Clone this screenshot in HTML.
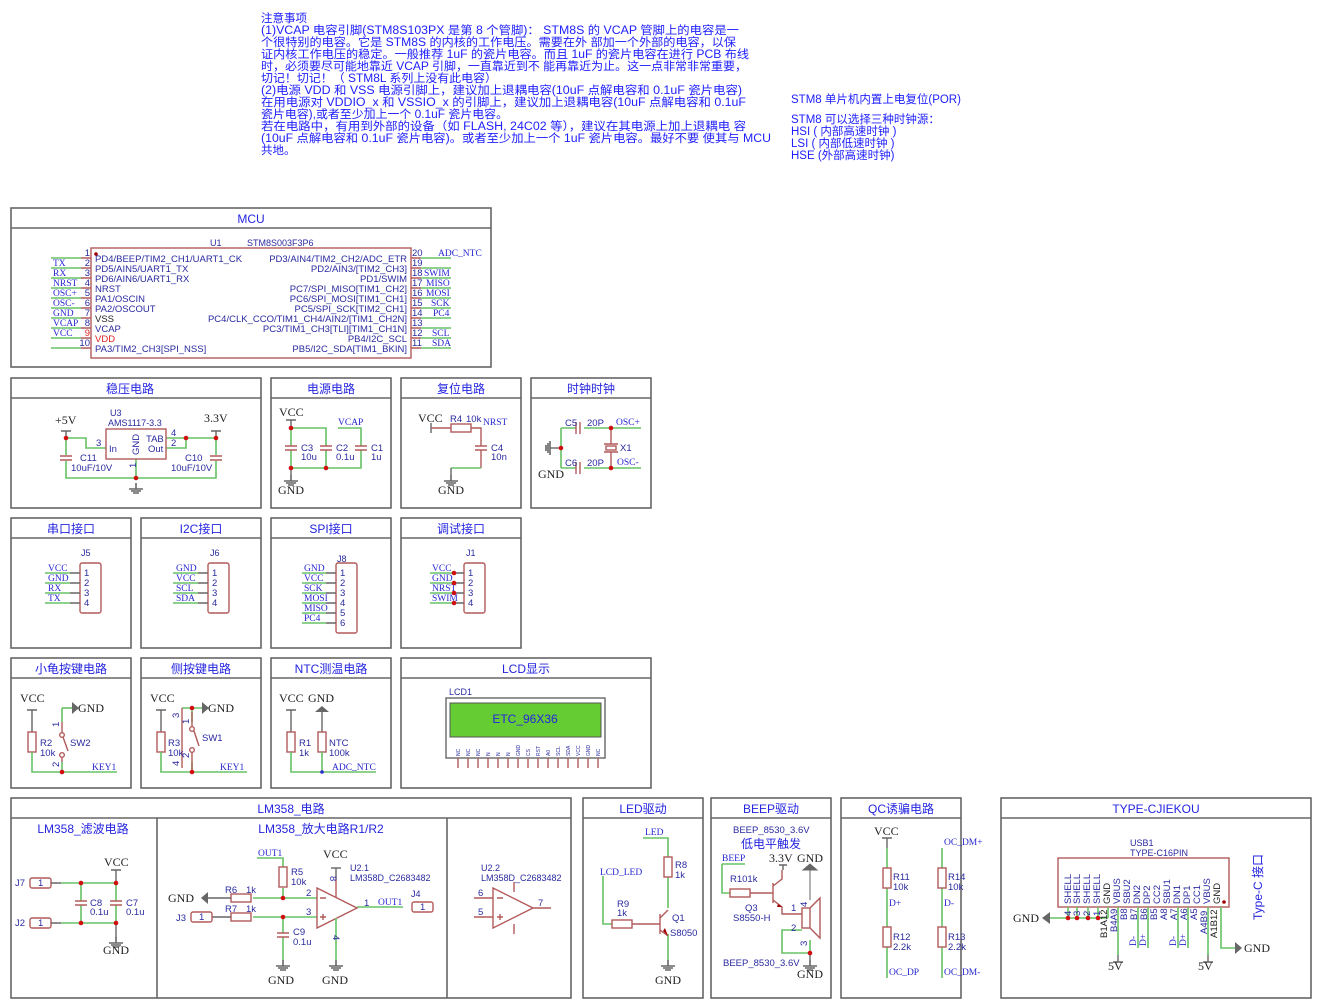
<!DOCTYPE html>
<html><head><meta charset="utf-8">
<style>
html,body{margin:0;padding:0;background:#fff;}
svg{display:block;}
.f{stroke:#666;stroke-width:1.6;fill:none}
.t{fill:#2424e0;font-family:"Liberation Sans","Noto Sans CJK SC",sans-serif;font-size:12px;text-anchor:middle}
.w{stroke:#66c266;stroke-width:1.6;fill:none}
.r{stroke:#b25a5a;stroke-width:1.4;fill:none}
.k{stroke:#666;stroke-width:1.4;fill:none}
.n{fill:#2626d0;font-family:"Liberation Serif",serif;font-size:9.5px}
.b{fill:#222;font-family:"Liberation Serif",serif;font-size:12px}
.s{fill:#2a2aa0;font-family:"Liberation Sans",sans-serif;font-size:9px}
.c{fill:#2a2aa0;font-family:"Liberation Sans",sans-serif;font-size:9.5px}
.d{fill:#d01010}
.note{fill:#2020ff;font-family:"Liberation Sans","Noto Sans CJK SC",sans-serif;font-size:11.5px}
</style></head>
<body>
<svg width="1321" height="1008" viewBox="0 0 1321 1008" xmlns="http://www.w3.org/2000/svg">
<defs>
<g id="gnd"><path d="M0,0V6M-7,6H7M-5,8H5M-3,10H3" stroke="#666" stroke-width="1.6" fill="none"/></g>
<g id="rv"><rect x="-4" y="0" width="8" height="20" class="r"/></g>
<g id="rh"><rect x="0" y="-4" width="20" height="8" class="r"/></g>
<g id="cv"><path d="M-6,-2H6M-6,2H6" class="r"/></g>
<g id="ch"><path d="M-2,-6V6M2,-6V6" class="r"/></g>
</defs>

<!-- Notes -->
<g class="note">
<text x="261" y="22">注意事项</text>
<text x="261" y="34" textLength="478" lengthAdjust="spacingAndGlyphs">(1)VCAP 电容引脚(STM8S103PX 是第 8 个管脚)：  STM8S 的 VCAP 管脚上的电容是一</text>
<text x="261" y="46" textLength="475" lengthAdjust="spacingAndGlyphs">个很特别的电容。它是 STM8S 的内核的工作电压。需要在外 部加一个外部的电容，以保</text>
<text x="261" y="58" textLength="488" lengthAdjust="spacingAndGlyphs">证内核工作电压的稳定。一般推荐 1uF 的瓷片电容。而且 1uF 的瓷片电容在进行 PCB 布线</text>
<text x="261" y="70" textLength="486" lengthAdjust="spacingAndGlyphs">时，必须要尽可能地靠近 VCAP 引脚，一直靠近到不 能再靠近为止。这一点非常非常重要，</text>
<text x="261" y="82" textLength="236" lengthAdjust="spacingAndGlyphs">切记！切记！（  STM8L 系列上没有此电容）</text>
<text x="261" y="94" textLength="481" lengthAdjust="spacingAndGlyphs">(2)电源 VDD 和 VSS 电源引脚上，建议加上退耦电容(10uF 点解电容和 0.1uF 瓷片电容)</text>
<text x="261" y="106" textLength="485" lengthAdjust="spacingAndGlyphs">在用电源对 VDDIO_x 和 VSSIO_x 的引脚上，建议加上退耦电容(10uF 点解电容和 0.1uF</text>
<text x="261" y="118" textLength="247" lengthAdjust="spacingAndGlyphs">瓷片电容),或者至少加上一个 0.1uF 瓷片电容。</text>
<text x="261" y="130" textLength="485" lengthAdjust="spacingAndGlyphs">若在电路中，有用到外部的设备（如 FLASH, 24C02 等），建议在其电源上加上退耦电 容</text>
<text x="261" y="142" textLength="510" lengthAdjust="spacingAndGlyphs">(10uF 点解电容和 0.1uF 瓷片电容)。或者至少加上一个 1uF 瓷片电容。最好不要 使其与 MCU</text>
<text x="261" y="154">共地。</text>
<text x="791" y="103">STM8 单片机内置上电复位(POR)</text>
<text x="791" y="123">STM8 可以选择三种时钟源：</text>
<text x="791" y="135">HSI ( 内部高速时钟 )</text>
<text x="791" y="147">LSI ( 内部低速时钟 )</text>
<text x="791" y="159">HSE (外部高速时钟)</text>
</g>

<!-- Frames -->
<g class="f">
<rect x="11" y="208" width="480" height="159"/><path d="M11,228H491"/>
<rect x="11" y="378" width="250" height="130"/><path d="M11,398H261"/>
<rect x="271" y="378" width="120" height="130"/><path d="M271,398H391"/>
<rect x="401" y="378" width="120" height="130"/><path d="M401,398H521"/>
<rect x="531" y="378" width="120" height="130"/><path d="M531,398H651"/>
<rect x="11" y="518" width="120" height="130"/><path d="M11,538H131"/>
<rect x="141" y="518" width="120" height="130"/><path d="M141,538H261"/>
<rect x="271" y="518" width="120" height="130"/><path d="M271,538H391"/>
<rect x="401" y="518" width="120" height="130"/><path d="M401,538H521"/>
<rect x="11" y="658" width="120" height="130"/><path d="M11,678H131"/>
<rect x="141" y="658" width="120" height="130"/><path d="M141,678H261"/>
<rect x="271" y="658" width="120" height="130"/><path d="M271,678H391"/>
<rect x="401" y="658" width="250" height="130"/><path d="M401,678H651"/>
<rect x="11" y="798" width="560" height="200"/><path d="M11,818H571M157,818V998M447,818V998"/>
<rect x="583" y="798" width="120" height="200"/><path d="M583,818H703"/>
<rect x="711" y="798" width="120" height="200"/><path d="M711,818H831"/>
<rect x="841" y="798" width="120" height="200"/><path d="M841,818H961"/>
<rect x="1001" y="798" width="310" height="200"/><path d="M1001,818H1311"/>
</g>
<g class="t">
<text x="251" y="223">MCU</text>
<text x="130" y="393">稳压电路</text><text x="331" y="393">电源电路</text><text x="461" y="393">复位电路</text><text x="591" y="393">时钟时钟</text>
<text x="71" y="533">串口接口</text><text x="201" y="533">I2C接口</text><text x="331" y="533">SPI接口</text><text x="461" y="533">调试接口</text>
<text x="71" y="673">小龟按键电路</text><text x="201" y="673">侧按键电路</text><text x="331" y="673">NTC测温电路</text><text x="526" y="673">LCD显示</text>
<text x="291" y="813">LM358_电路</text><text x="83" y="833">LM358_滤波电路</text><text x="321" y="833">LM358_放大电路R1/R2</text>
<text x="643" y="813">LED驱动</text><text x="771" y="813">BEEP驱动</text><text x="901" y="813">QC诱骗电路</text><text x="1156" y="813">TYPE-CJIEKOU</text>
</g>

<!-- MCU -->
<text x="210" y="246" class="s" fill="#222">U1</text><text x="247" y="246" class="s">STM8S003F3P6</text>
<rect x="91" y="248" width="320" height="110" class="r"/>
<circle cx="96" cy="254" r="1.8" fill="#a00000"/>
<g class="w">
<path d="M51,258H81M51,268H81M51,278H81M51,288H81M51,298H81M51,308H81M51,318H81M51,328H81M51,338H81M51,348H81"/>
<path d="M421,258H451M421,268H451M421,278H451M421,288H451M421,298H451M421,308H451M421,318H451M421,328H451M421,338H451M421,348H451"/>
</g>
<path d="M81,258H91M81,268H91M81,278H91M81,288H91M81,298H91M81,308H91M81,318H91M81,328H91M81,338H91M81,348H91M411,258H421M411,268H421M411,278H421M411,288H421M411,298H421M411,308H421M411,318H421M411,328H421M411,338H421M411,348H421" class="r"/>
<g class="c" text-anchor="end">
<text x="90" y="256">1</text><text x="90" y="266">2</text><text x="90" y="276">3</text><text x="90" y="286">4</text><text x="90" y="296">5</text><text x="90" y="306">6</text><text x="90" y="316">7</text><text x="90" y="326">8</text><text x="90" y="336" fill="#e02020">9</text><text x="90" y="346">10</text>
</g>
<g class="c">
<text x="412" y="256">20</text><text x="412" y="266">19</text><text x="412" y="276">18</text><text x="412" y="286">17</text><text x="412" y="296">16</text><text x="412" y="306">15</text><text x="412" y="316">14</text><text x="412" y="326">13</text><text x="412" y="336">12</text><text x="412" y="346">11</text>
</g>
<g class="n">
<text x="53" y="266">TX</text><text x="53" y="276">RX</text><text x="53" y="286">NRST</text><text x="53" y="296">OSC+</text><text x="53" y="306">OSC-</text><text x="53" y="316">GND</text><text x="53" y="326">VCAP</text><text x="53" y="336">VCC</text>
<text x="438" y="256">ADC_NTC</text><text x="424" y="276">SWIM</text><text x="426" y="286">MISO</text><text x="426" y="296">MOSI</text><text x="431" y="306">SCK</text><text x="433" y="316">PC4</text><text x="432" y="336">SCL</text><text x="432" y="346">SDA</text>
</g>
<g class="c">
<text x="95" y="262">PD4/BEEP/TIM2_CH1/UART1_CK</text><text x="95" y="272">PD5/AIN5/UART1_TX</text><text x="95" y="282">PD6/AIN6/UART1_RX</text><text x="95" y="292">NRST</text><text x="95" y="302">PA1/OSCIN</text><text x="95" y="312">PA2/OSCOUT</text><text x="95" y="322" fill="#222">VSS</text><text x="95" y="332">VCAP</text><text x="95" y="342" fill="#e02020">VDD</text><text x="95" y="352">PA3/TIM2_CH3[SPI_NSS]</text>
</g>
<g class="c" text-anchor="end">
<text x="407" y="262">PD3/AIN4/TIM2_CH2/ADC_ETR</text><text x="407" y="272">PD2/AIN3/[TIM2_CH3]</text><text x="407" y="282">PD1/SWIM</text><text x="407" y="292">PC7/SPI_MISO[TIM1_CH2]</text><text x="407" y="302">PC6/SPI_MOSI[TIM1_CH1]</text><text x="407" y="312">PC5/SPI_SCK[TIM2_CH1]</text><text x="407" y="322">PC4/CLK_CCO/TIM1_CH4/AIN2/[TIM1_CH2N]</text><text x="407" y="332">PC3/TIM1_CH3[TLI][TIM1_CH1N]</text><text x="407" y="342">PB4/I2C_SCL</text><text x="407" y="352">PB5/I2C_SDA[TIM1_BKIN]</text>
</g>

<!-- 稳压 -->
<text x="55" y="424" class="b">+5V</text><text x="204" y="422" class="b">3.3V</text>
<path d="M61,431H71M66,431V438M211,431H221M216,431V438" class="k"/>
<path d="M66,438H86V448H106M66,438V455M66,461V478H216V461M216,455V438H186M166,438H186V448H166M136,459V478" class="w"/>
<use href="#cv" x="66" y="458"/><use href="#cv" x="216" y="458"/>
<rect x="106" y="429" width="60" height="30" class="r"/>
<text x="110" y="416" class="s" fill="#222">U3</text><text x="108" y="426" class="s" fill="#222">AMS1117-3.3</text>
<text x="109" y="452" class="c">In</text><text x="146" y="442" class="c">TAB</text><text x="148" y="452" class="c">Out</text>
<text x="139" y="455" class="c" transform="rotate(-90 139 455)">GND</text>
<text x="96" y="446" class="c">3</text><text x="171" y="436" class="c">4</text><text x="171" y="446" class="c">2</text>
<text x="136" y="468" class="c" transform="rotate(-90 136 468)">1</text>
<text x="80" y="461" class="c">C11</text><text x="71" y="471" class="c">10uF/10V</text><text x="185" y="461" class="c">C10</text><text x="171" y="471" class="c">10uF/10V</text>
<use href="#gnd" x="136" y="483"/>
<g class="d"><circle cx="66" cy="438" r="2.3"/><circle cx="186" cy="438" r="2.3"/><circle cx="216" cy="438" r="2.3"/><circle cx="136" cy="478" r="2.3"/></g>

<!-- 电源 -->
<text x="279" y="416" class="b">VCC</text><path d="M286,420H296M291,420V428" class="k"/>
<path d="M291,428H326V446M291,428V446M291,450V468H361V450M326,450V468M338,428H361V446" class="w"/>
<use href="#cv" x="291" y="448"/><use href="#cv" x="326" y="448"/><use href="#cv" x="361" y="448"/>
<text x="301" y="451" class="c">C3</text><text x="301" y="460" class="c">10u</text><text x="336" y="451" class="c">C2</text><text x="336" y="460" class="c">0.1u</text><text x="371" y="451" class="c">C1</text><text x="371" y="460" class="c">1u</text>
<text x="338" y="425" class="n">VCAP</text>
<path d="M291,468V475" class="k"/><use href="#gnd" x="291" y="475"/><text x="278" y="494" class="b">GND</text>
<g class="d"><circle cx="291" cy="428" r="2.3"/><circle cx="291" cy="468" r="2.3"/><circle cx="326" cy="468" r="2.3"/></g>

<!-- 复位 -->
<text x="418" y="422" class="b">VCC</text><path d="M431,423V433" class="k"/>
<path d="M431,428H451M471,428H481V446M481,450V468" class="r"/>
<use href="#rh" x="451" y="428"/><use href="#cv" x="481" y="448"/>
<path d="M451,468H481" class="w"/><path d="M451,468V475" class="k"/><use href="#gnd" x="451" y="475"/>
<text x="438" y="494" class="b">GND</text>
<text x="450" y="422" class="c">R4</text><text x="466" y="422" class="c">10k</text><text x="483" y="425" class="n">NRST</text>
<text x="491" y="451" class="c">C4</text><text x="491" y="460" class="c">10n</text>

<!-- 时钟 -->
<path d="M561,428V468M561,428H576M584,428H641M561,468H576M584,468H641" class="w"/>
<path d="M561,448H550" class="k"/><path d="M550,441V455M548,443V453M546,445V451" stroke="#666" stroke-width="1.6"/>
<path d="M576,422V434M580,422V434M576,462V474M580,462V474M611,428V444M611,452V468M604,444H618M604,452H618" class="r"/>
<rect x="606" y="446" width="10" height="4" class="r"/>
<text x="538" y="478" class="b">GND</text>
<text x="565" y="426" class="c">C5</text><text x="587" y="426" class="c">20P</text><text x="565" y="466" class="c">C6</text><text x="587" y="466" class="c">20P</text>
<text x="616" y="425" class="n">OSC+</text><text x="617" y="465" class="n">OSC-</text><text x="620" y="451" class="c">X1</text>
<g class="d"><circle cx="561" cy="448" r="2.3"/><circle cx="611" cy="428" r="2.3"/><circle cx="611" cy="468" r="2.3"/></g>

<!-- Connectors -->
<g>
<text x="81" y="556" class="s" fill="#222">J5</text><rect x="80" y="563" width="21" height="50" rx="2" class="r"/>
<path d="M45,573H70M45,583H70M45,593H70M45,603H70" class="w"/><path d="M70,573H80M70,583H80M70,593H80M70,603H80" class="k"/>
<g class="c" fill="#222"><text x="84" y="576">1</text><text x="84" y="586">2</text><text x="84" y="596">3</text><text x="84" y="606">4</text></g>
<g class="n"><text x="48" y="571">VCC</text><text x="48" y="581">GND</text><text x="48" y="591">RX</text><text x="48" y="601">TX</text></g>

<text x="210" y="556" class="s" fill="#222">J6</text><rect x="208" y="563" width="21" height="50" rx="2" class="r"/>
<path d="M173,573H198M173,583H198M173,593H198M173,603H198" class="w"/><path d="M198,573H208M198,583H208M198,593H208M198,603H208" class="k"/>
<g class="c" fill="#222"><text x="212" y="576">1</text><text x="212" y="586">2</text><text x="212" y="596">3</text><text x="212" y="606">4</text></g>
<g class="n"><text x="176" y="571">GND</text><text x="176" y="581">VCC</text><text x="176" y="591">SCL</text><text x="176" y="601">SDA</text></g>

<text x="337" y="562" class="s" fill="#222">J8</text><rect x="336" y="563" width="21" height="70" rx="2" class="r"/>
<path d="M302,573H326M302,583H326M302,593H326M302,603H326M302,613H326M302,623H326" class="w"/><path d="M326,573H336M326,583H336M326,593H336M326,603H336M326,613H336M326,623H336" class="k"/>
<g class="c" fill="#222"><text x="340" y="576">1</text><text x="340" y="586">2</text><text x="340" y="596">3</text><text x="340" y="606">4</text><text x="340" y="616">5</text><text x="340" y="626">6</text></g>
<g class="n"><text x="304" y="571">GND</text><text x="304" y="581">VCC</text><text x="304" y="591">SCK</text><text x="304" y="601">MOSI</text><text x="304" y="611">MISO</text><text x="304" y="621">PC4</text></g>

<text x="466" y="556" class="s" fill="#222">J1</text><rect x="464" y="563" width="21" height="50" rx="2" class="r"/>
<path d="M430,573H454M430,583H454M430,593H454M430,603H454" class="w"/><path d="M454,573H464M454,583H464M454,593H464M454,603H464" class="k"/>
<g class="c" fill="#222"><text x="468" y="576">1</text><text x="468" y="586">2</text><text x="468" y="596">3</text><text x="468" y="606">4</text></g>
<g class="n"><text x="432" y="571">VCC</text><text x="432" y="581">GND</text><text x="432" y="591">NRST</text><text x="432" y="601">SWIM</text></g>
<g class="d"><circle cx="454" cy="573" r="2.3"/><circle cx="454" cy="583" r="2.3"/><circle cx="454" cy="593" r="2.3"/><circle cx="454" cy="603" r="2.3"/></g>
</g>

<!-- 小龟 -->
<text x="20" y="702" class="b">VCC</text><path d="M27,710H37M32,710V732" class="k"/>
<use href="#rv" x="32" y="732"/><path d="M32,752V772H117M62,708V722M62,762V772" class="w"/>
<path d="M62,708H72" class="w"/><path d="M72,702V714L79,708Z" fill="#666"/>
<text x="78" y="712" class="b">GND</text>
<circle cx="62" cy="735" r="2.3" class="r"/><circle cx="62" cy="755" r="2.3" class="r"/><path d="M62,722V733M62,757V762M63,737L68,751" class="r"/>
<text x="40" y="746" class="c">R2</text><text x="40" y="756" class="c">10k</text><text x="70" y="746" class="c">SW2</text>
<text x="59" y="727" class="c" transform="rotate(-90 59 727)">1</text><text x="59" y="767" class="c" transform="rotate(-90 59 767)">2</text>
<text x="92" y="770" class="n">KEY1</text><circle cx="62" cy="772" r="2.3" class="d"/>

<!-- 侧按键 -->
<text x="150" y="702" class="b">VCC</text><path d="M156,710H166M161,710V732" class="k"/>
<use href="#rv" x="161" y="732"/><path d="M161,752V772H247M192,708V722M192,762V772" class="w"/>
<path d="M182,708H202" class="w"/><path d="M202,702V714L209,708Z" fill="#666"/><path d="M182,708V768" class="r"/>
<text x="208" y="712" class="b">GND</text>
<circle cx="192" cy="729" r="2.3" class="r"/><circle cx="192" cy="750" r="2.3" class="r"/><path d="M192,712V727M192,752V772M194,731L199,746" class="r"/>
<text x="168" y="746" class="c">R3</text><text x="168" y="756" class="c">10k</text><text x="202" y="741" class="c">SW1</text>
<text x="179" y="718" class="c" transform="rotate(-90 179 718)">3</text><text x="189" y="724" class="c" transform="rotate(-90 189 724)">1</text>
<text x="179" y="766" class="c" transform="rotate(-90 179 766)">4</text><text x="189" y="758" class="c" transform="rotate(-90 189 758)">2</text>
<text x="220" y="770" class="n">KEY1</text><circle cx="192" cy="708" r="2.3" class="d"/><circle cx="192" cy="772" r="2.3" class="d"/>

<!-- NTC -->
<text x="279" y="702" class="b">VCC</text><text x="308" y="702" class="b">GND</text>
<path d="M286,710H296M291,710V732M322,712V732" class="k"/><path d="M315,712H329L322,706Z" fill="#666"/>
<use href="#rv" x="291" y="732"/><use href="#rv" x="322" y="732"/>
<path d="M291,752V772H376M322,752V772" class="w"/>
<text x="299" y="746" class="c">R1</text><text x="299" y="756" class="c">1k</text><text x="329" y="746" class="c">NTC</text><text x="329" y="756" class="c">100k</text>
<text x="332" y="770" class="n">ADC_NTC</text><circle cx="322" cy="772" r="1.8" fill="#2a2ad0"/>

<!-- LCD -->
<text x="449" y="695" class="s">LCD1</text>
<rect x="446" y="698" width="159" height="60" class="k"/>
<rect x="450" y="703" width="151" height="34" fill="#66cc33" stroke="#555" stroke-width="1"/>
<text x="525" y="723" class="t" font-size="13">ETC_96X36</text>
<g class="r">
<path d="M458,758V768M468,758V768M478,758V768M488,758V768M498,758V768M508,758V768M518,758V768M528,758V768M538,758V768M548,758V768M558,758V768M568,758V768M578,758V768M588,758V768M598,758V768"/>
</g>
<g font-family="Liberation Sans,sans-serif" font-size="5px" fill="#2a2aa0">
<text transform="translate(460,756) rotate(-90)">NC</text><text transform="translate(470,756) rotate(-90)">NC</text><text transform="translate(480,756) rotate(-90)">NC</text><text transform="translate(490,756) rotate(-90)">N</text><text transform="translate(500,756) rotate(-90)">N</text><text transform="translate(510,756) rotate(-90)">N</text><text transform="translate(520,756) rotate(-90)">GND</text><text transform="translate(530,756) rotate(-90)">CS</text><text transform="translate(540,756) rotate(-90)">RST</text><text transform="translate(550,756) rotate(-90)">A0</text><text transform="translate(560,756) rotate(-90)">SCL</text><text transform="translate(570,756) rotate(-90)">SDA</text><text transform="translate(580,756) rotate(-90)">VCC</text><text transform="translate(590,756) rotate(-90)">GND</text><text transform="translate(600,756) rotate(-90)">NC</text>
</g>

<!-- LM358 filter -->
<text x="15" y="886" class="c">J7</text><text x="15" y="926" class="c">J2</text>
<rect x="30" y="878" width="21" height="10" rx="2" class="r"/><rect x="30" y="918" width="21" height="10" rx="2" class="r"/>
<text x="38" y="886" class="c" fill="#222">1</text><text x="38" y="926" class="c" fill="#222">1</text>
<path d="M81,883H116M81,923H116M81,883V901M81,905V923M116,883V901M116,905V923" class="w"/>
<path d="M51,883H61M51,923H61" class="k"/><path d="M61,883H81M61,923H81" class="w"/>
<use href="#cv" x="81" y="903"/><use href="#cv" x="116" y="903"/>
<text x="104" y="866" class="b">VCC</text><path d="M111,870H121M116,870V883M116,923V938" class="k"/><use href="#gnd" x="116" y="937"/>
<text x="103" y="954" class="b">GND</text>
<text x="90" y="906" class="c">C8</text><text x="90" y="915" class="c">0.1u</text><text x="126" y="906" class="c">C7</text><text x="126" y="915" class="c">0.1u</text>
<g class="d"><circle cx="81" cy="883" r="2.3"/><circle cx="116" cy="883" r="2.3"/><circle cx="81" cy="923" r="2.3"/><circle cx="116" cy="923" r="2.3"/></g>

<!-- LM358 amp -->
<text x="258" y="856" class="n">OUT1</text>
<path d="M257,858H283V867M283,888V898M253,898H317M253,917H317M283,917V933M283,937V960M357,907H403" class="w"/>
<use href="#rv" x="283" y="867"/><use href="#rh" x="231" y="898"/><use href="#rh" x="231" y="917"/><use href="#cv" x="283" y="935"/>
<path d="M208,898H231M212,917H231" class="k"/><path d="M208,892V904L201,898Z" fill="#666"/>
<text x="168" y="902" class="b">GND</text>
<text x="176" y="921" class="c">J3</text><rect x="191" y="912" width="21" height="10" rx="2" class="r"/><text x="199" y="920" class="c" fill="#222">1</text>
<text x="225" y="893" class="c">R6</text><text x="246" y="893" class="c">1k</text><text x="225" y="912" class="c">R7</text><text x="246" y="912" class="c">1k</text>
<text x="291" y="875" class="c">R5</text><text x="291" y="885" class="c">10k</text><text x="293" y="935" class="c">C9</text><text x="293" y="945" class="c">0.1u</text>
<path d="M317,888V928L357,908Z" class="r"/>
<path d="M320,898H326M320,917H326M323,914V920" class="r"/>
<path d="M336,868V878" class="k"/><path d="M331,868H341" class="k"/><path d="M336,878V898" class="r"/><path d="M336,918V960" class="w"/>
<text x="323" y="858" class="b">VCC</text>
<text x="330" y="876" class="c" fill="#e02020" transform="rotate(90 330 876)">8</text><text x="333" y="935" class="c" fill="#222" transform="rotate(90 333 935)">4</text>
<text x="306" y="896" class="c">2</text><text x="306" y="915" class="c">3</text><text x="364" y="906" class="c">1</text>
<text x="378" y="905" class="n">OUT1</text>
<text x="411" y="897" class="s" fill="#222">J4</text><rect x="412" y="902" width="21" height="10" rx="2" class="r"/><text x="420" y="910" class="c" fill="#222">1</text>
<text x="350" y="871" class="s" fill="#222">U2.1</text><text x="350" y="881" class="s" fill="#222">LM358D_C2683482</text>
<use href="#gnd" x="283" y="960"/><use href="#gnd" x="336" y="960"/>
<text x="268" y="984" class="b">GND</text><text x="322" y="984" class="b">GND</text>
<g class="d"><circle cx="283" cy="898" r="2.3"/><circle cx="283" cy="917" r="2.3"/></g>
<!-- U2.2 -->
<text x="481" y="871" class="s" fill="#222">U2.2</text><text x="481" y="881" class="s" fill="#222">LM358D_C2683482</text>
<path d="M493,888V928L533,908ZM474,898H493M474,917H493M533,908H551M514,882V892M514,924V934M497,898H503M497,917H503M500,914V920" class="r"/>
<text x="478" y="896" class="c">6</text><text x="478" y="915" class="c">5</text><text x="538" y="906" class="c">7</text>

<!-- LED -->
<text x="645" y="835" class="n">LED</text>
<path d="M643,838H668V857M668,877V908M668,934V960M603,876V924H612" class="w"/>
<text x="600" y="875" class="n">LCD_LED</text>
<use href="#rv" x="668" y="857"/><use href="#rh" x="612" y="924"/>
<path d="M632,924H660M660,914V934M660,918L668,910M660,930L668,936" class="r"/><path d="M663,931L668,936L665,928Z" fill="#a00000"/>
<text x="675" y="868" class="c">R8</text><text x="675" y="878" class="c">1k</text><text x="617" y="907" class="c">R9</text><text x="617" y="916" class="c">1k</text>
<text x="672" y="921" class="c">Q1</text><text x="670" y="936" class="c">S8050</text>
<use href="#gnd" x="668" y="960"/><text x="655" y="984" class="b">GND</text>

<!-- BEEP -->
<text x="733" y="833" class="c">BEEP_8530_3.6V</text><text x="741" y="848" class="t" style="text-anchor:start">低电平触发</text>
<text x="722" y="861" class="n">BEEP</text>
<path d="M722,864H745M722,864V893H730" class="w"/>
<use href="#rh" x="730" y="893"/><path d="M750,893H773M773,883V903M773,886L782,879V870M773,900L782,907V914H802" class="r"/>
<path d="M778,904L782,907L777,907Z" fill="#a00000"/>
<text x="769" y="862" class="b">3.3V</text><path d="M783,865V870M779,865H787" class="k"/>
<text x="797" y="862" class="b">GND</text><path d="M810,870V900M803,870H817L810,864Z" stroke="#666" fill="#666"/>
<rect x="802" y="908" width="8" height="20" class="r"/><path d="M810,908L820,898V938L810,928" class="r"/>
<path d="M802,930H782V953H810V940" class="w"/><path d="M810,953V960" class="k"/><use href="#gnd" x="810" y="960"/>
<text x="730" y="882" class="c">R101k</text><text x="745" y="911" class="c">Q3</text><text x="733" y="921" class="c">S8550-H</text>
<text x="791" y="911" class="c">1</text><text x="791" y="931" class="c">2</text>
<text x="807" y="907" class="c" transform="rotate(-90 807 907)">4</text><text x="807" y="946" class="c" transform="rotate(-90 807 946)">3</text>
<text x="723" y="966" class="c">BEEP_8530_3.6V</text><text x="797" y="978" class="b">GND</text>
<circle cx="810" cy="953" r="2.3" class="d"/>

<!-- QC -->
<text x="874" y="835" class="b">VCC</text><path d="M882,838H892M887,838V848" class="k"/>
<path d="M887,848V868M887,888V927M887,947V978M942,848V868M942,888V927M942,947V978" class="w"/>
<use href="#rv" x="887" y="868"/><use href="#rv" x="887" y="927"/><use href="#rv" x="942" y="868"/><use href="#rv" x="942" y="927"/>
<text x="893" y="880" class="c">R11</text><text x="893" y="890" class="c">10k</text><text x="893" y="940" class="c">R12</text><text x="893" y="950" class="c">2.2k</text>
<text x="948" y="880" class="c">R14</text><text x="948" y="890" class="c">10k</text><text x="948" y="940" class="c">R13</text><text x="948" y="950" class="c">2.2k</text>
<text x="889" y="906" class="n">D+</text><text x="944" y="906" class="n">D-</text>
<text x="889" y="975" class="n">OC_DP</text><text x="944" y="975" class="n">OC_DM-</text><text x="944" y="845" class="n">OC_DM+</text>

<!-- TYPE-C -->
<text x="1130" y="846" class="s" fill="#222">USB1</text><text x="1130" y="856" class="s" fill="#222">TYPE-C16PIN</text>
<rect x="1058" y="858" width="171" height="49" class="r"/><circle cx="1224" cy="902" r="1.8" fill="#a00000"/>
<g class="c" font-size="9px">
<text transform="translate(1071,904) rotate(-90)">SHELL</text><text transform="translate(1080,904) rotate(-90)">SHELL</text><text transform="translate(1090,904) rotate(-90)">SHELL</text><text transform="translate(1100,904) rotate(-90)">SHELL</text><text transform="translate(1110,904) rotate(-90)" fill="#222">GND</text><text transform="translate(1120,904) rotate(-90)">VBUS</text><text transform="translate(1130,904) rotate(-90)">SBU2</text><text transform="translate(1140,904) rotate(-90)">DN2</text><text transform="translate(1150,904) rotate(-90)">DP2</text><text transform="translate(1160,904) rotate(-90)">CC2</text><text transform="translate(1170,904) rotate(-90)">SBU1</text><text transform="translate(1180,904) rotate(-90)">DN1</text><text transform="translate(1190,904) rotate(-90)">DP1</text><text transform="translate(1200,904) rotate(-90)">CC1</text><text transform="translate(1210,904) rotate(-90)">VBUS</text><text transform="translate(1220,904) rotate(-90)" fill="#222">GND</text>
</g>
<path d="M1068,907V918M1077,907V918M1088,907V918M1098,907V918M1108,907V918M1118,907V955M1138,907V948M1148,907V948M1178,907V948M1188,907V948M1208,907V955M1221,907V948H1235" class="w"/>
<path d="M1050,918H1108" class="w"/><path d="M1050,912V924L1042,918Z" fill="#666"/>
<text x="1013" y="922" class="b">GND</text>
<path d="M1235,942V954L1242,948Z" fill="#666"/><text x="1244" y="952" class="b">GND</text>
<path d="M1118,955V962M1113,962H1123M1208,955V962M1203,962H1213" class="k"/>
<text x="1108" y="970" class="b">5V</text><text x="1198" y="970" class="b">5V</text>
<g class="c" font-size="9px">
<text transform="translate(1107,938) rotate(-90)" fill="#222">B1A12</text><text transform="translate(1117,932) rotate(-90)">B4A9</text><text transform="translate(1127,920) rotate(-90)">B8</text><text transform="translate(1137,920) rotate(-90)">B7</text><text transform="translate(1147,920) rotate(-90)">B6</text><text transform="translate(1157,920) rotate(-90)">B5</text><text transform="translate(1167,920) rotate(-90)">A8</text><text transform="translate(1177,920) rotate(-90)">A7</text><text transform="translate(1187,920) rotate(-90)">A6</text><text transform="translate(1197,920) rotate(-90)">A5</text><text transform="translate(1207,934) rotate(-90)">A4B9</text><text transform="translate(1217,938) rotate(-90)" fill="#222">A1B12</text>
<text transform="translate(1071,916) rotate(-90)">4</text><text transform="translate(1080,916) rotate(-90)">3</text><text transform="translate(1090,916) rotate(-90)">2</text><text transform="translate(1100,916) rotate(-90)">1</text>
</g>
<g class="n"><text transform="translate(1136,946) rotate(-90)">D-</text><text transform="translate(1146,946) rotate(-90)">D+</text><text transform="translate(1176,946) rotate(-90)">D-</text><text transform="translate(1186,946) rotate(-90)">D+</text></g>
<g class="d"><circle cx="1068" cy="918" r="2.3"/><circle cx="1077" cy="918" r="2.3"/><circle cx="1088" cy="918" r="2.3"/><circle cx="1098" cy="918" r="2.3"/></g>
<text transform="translate(1262,920) rotate(-90)" class="t" style="text-anchor:start">Type-C 接口</text>
</svg>
</body></html>
